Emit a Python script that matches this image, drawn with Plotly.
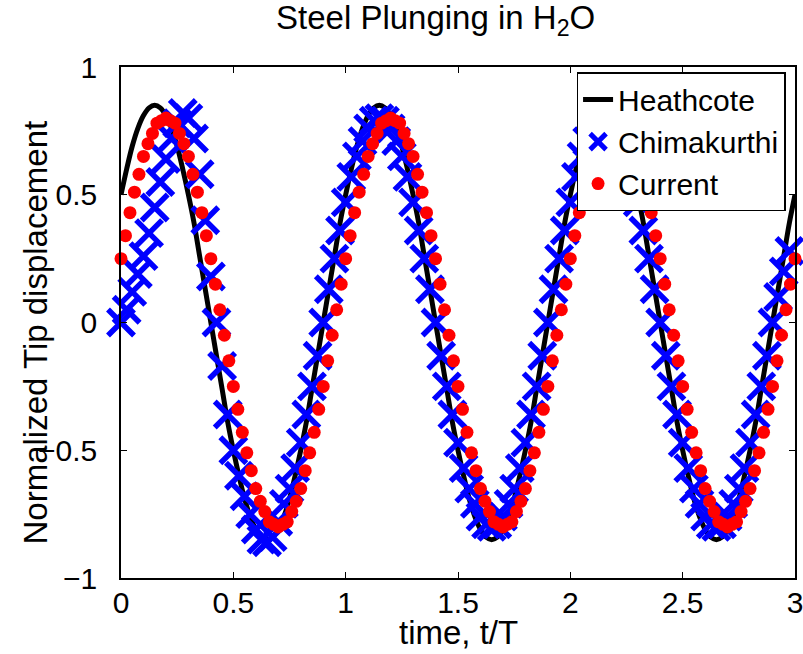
import plotly.graph_objects as go

# ---------------- data ----------------
heath_t = [round(0.025 * i, 3) for i in range(121)]
heath_y = [
    0.50, 0.60, 0.69, 0.76, 0.81, 0.84, 0.85, 0.84, 0.81, 0.76,
    0.69, 0.60, 0.50, 0.39, 0.26, 0.13, 0.00, -0.13, -0.26, -0.39,
    -0.50, -0.60, -0.69, -0.76, -0.81, -0.84, -0.85, -0.84, -0.81, -0.76,
    -0.69, -0.60, -0.50, -0.39, -0.26, -0.13, 0.00, 0.13, 0.26, 0.39,
    0.50, 0.60, 0.69, 0.76, 0.81, 0.84, 0.85, 0.84, 0.81, 0.76,
    0.69, 0.60, 0.50, 0.39, 0.26, 0.13, 0.00, -0.13, -0.26, -0.39,
    -0.50, -0.60, -0.69, -0.76, -0.81, -0.84, -0.85, -0.84, -0.81, -0.76,
    -0.69, -0.60, -0.50, -0.39, -0.26, -0.13, 0.00, 0.13, 0.26, 0.39,
    0.50, 0.60, 0.69, 0.76, 0.81, 0.84, 0.85, 0.84, 0.81, 0.76,
    0.69, 0.60, 0.50, 0.39, 0.26, 0.13, 0.00, -0.13, -0.26, -0.39,
    -0.50, -0.60, -0.69, -0.76, -0.81, -0.84, -0.85, -0.84, -0.81, -0.76,
    -0.69, -0.60, -0.50, -0.39, -0.26, -0.13, 0.00, 0.13, 0.26, 0.39,
    0.50,
]

chim_t = [round(0.025 * i, 3) for i in range(120)]
chim_y = [
    0.00, 0.05, 0.12, 0.19, 0.26, 0.35, 0.45, 0.55, 0.64, 0.72,
    0.78, 0.82, 0.80, 0.72, 0.58, 0.40, 0.18, 0.00, -0.17, -0.36,
    -0.50, -0.60, -0.68, -0.75, -0.81, -0.85, -0.86, -0.84, -0.78, -0.71,
    -0.65, -0.57, -0.47, -0.36, -0.25, -0.13, 0.00, 0.13, 0.25, 0.36,
    0.47, 0.57, 0.65, 0.71, 0.76, 0.79, 0.80, 0.79, 0.76, 0.71,
    0.65, 0.57, 0.47, 0.36, 0.25, 0.13, 0.00, -0.13, -0.25, -0.36,
    -0.47, -0.57, -0.65, -0.71, -0.76, -0.79, -0.80, -0.79, -0.76, -0.71,
    -0.65, -0.57, -0.47, -0.36, -0.25, -0.13, 0.00, 0.13, 0.25, 0.36,
    0.47, 0.57, 0.65, 0.71, 0.76, 0.79, 0.80, 0.79, 0.76, 0.71,
    0.65, 0.57, 0.47, 0.36, 0.25, 0.13, 0.00, -0.13, -0.25, -0.36,
    -0.47, -0.57, -0.65, -0.71, -0.76, -0.79, -0.80, -0.79, -0.76, -0.71,
    -0.65, -0.57, -0.47, -0.36, -0.25, -0.13, 0.00, 0.10, 0.20, 0.28,
]

curr_t = [round(0.02 * i, 3) for i in range(151)]
curr_y = [
    0.25, 0.34, 0.43, 0.51, 0.58, 0.65, 0.70, 0.74, 0.78, 0.79,
    0.80, 0.79, 0.78, 0.74, 0.70, 0.65, 0.58, 0.51, 0.43, 0.34,
    0.25, 0.15, 0.05, -0.05, -0.15, -0.25, -0.34, -0.43, -0.51, -0.58,
    -0.65, -0.70, -0.74, -0.78, -0.79, -0.80, -0.79, -0.78, -0.74, -0.70,
    -0.65, -0.58, -0.51, -0.43, -0.34, -0.25, -0.15, -0.05, 0.05, 0.15,
    0.25, 0.34, 0.43, 0.51, 0.58, 0.65, 0.70, 0.74, 0.78, 0.79,
    0.80, 0.79, 0.78, 0.74, 0.70, 0.65, 0.58, 0.51, 0.43, 0.34,
    0.25, 0.15, 0.05, -0.05, -0.15, -0.25, -0.34, -0.43, -0.51, -0.58,
    -0.65, -0.70, -0.74, -0.78, -0.79, -0.80, -0.79, -0.78, -0.74, -0.70,
    -0.65, -0.58, -0.51, -0.43, -0.34, -0.25, -0.15, -0.05, 0.05, 0.15,
    0.25, 0.34, 0.43, 0.51, 0.58, 0.65, 0.70, 0.74, 0.78, 0.79,
    0.80, 0.79, 0.78, 0.74, 0.70, 0.65, 0.58, 0.51, 0.43, 0.34,
    0.25, 0.15, 0.05, -0.05, -0.15, -0.25, -0.34, -0.43, -0.51, -0.58,
    -0.65, -0.70, -0.74, -0.78, -0.79, -0.80, -0.79, -0.78, -0.74, -0.70,
    -0.65, -0.58, -0.51, -0.43, -0.34, -0.25, -0.15, -0.05, 0.05, 0.15,
    0.25,
]

x_ticks = [0, 0.5, 1, 1.5, 2, 2.5, 3]
x_tick_labels = ["0", "0.5", "1", "1.5", "2", "2.5", "3"]
y_ticks = [-1, -0.5, 0, 0.5, 1]
y_tick_labels = ["\u22121", "\u22120.5", "0", "0.5", "1"]

title_text = "Steel Plunging in H<sub>2</sub>O"
x_title = "time, t/T"
y_title = "Normalized Tip displacement"

FONT = "Liberation Sans, Arial, Helvetica, sans-serif"

fig = go.Figure()
fig.add_trace(go.Scatter(
    x=heath_t, y=heath_y, mode="lines", name="Heathcote",
    line=dict(color="black", width=5, shape="spline"),
))
fig.add_trace(go.Scatter(
    x=chim_t, y=chim_y, mode="markers", name="Chimakurthi",
    marker=dict(symbol="x-thin", size=26, color="blue",
                line=dict(color="blue", width=5.5)),
    cliponaxis=False,
))
fig.add_trace(go.Scatter(
    x=curr_t, y=curr_y, mode="markers", name="Current",
    marker=dict(symbol="circle", size=13, color="red", line=dict(width=0)),
    cliponaxis=False,
))

axis_common = dict(
    showline=True, linecolor="black", linewidth=1.5, mirror="ticks",
    ticks="inside", ticklen=6, tickwidth=1, tickcolor="black",
    showgrid=False, zeroline=False, automargin=False,
    ticklabeloverflow="allow",
    tickfont=dict(family=FONT, size=30, color="black"),
)

fig.update_xaxes(range=[0, 3], tickvals=x_ticks, ticktext=x_tick_labels,
                 ticklabelstandoff=-3, **axis_common)
fig.update_yaxes(range=[-1, 1], tickvals=y_ticks, ticktext=y_tick_labels,
                 ticklabelstandoff=16, **axis_common)

fig.update_layout(
    width=803, height=654,
    margin=dict(l=121, r=8, t=67, b=76),
    paper_bgcolor="white", plot_bgcolor="white",
    showlegend=True,
    legend=dict(
        x=0.986, y=0.99, xanchor="right", yanchor="top",
        bgcolor="white", bordercolor="black", borderwidth=1.5,
        font=dict(family=FONT, size=30, color="black"),
        itemsizing="trace", tracegroupgap=0,
    ),
    annotations=[
        dict(text=title_text, xref="paper", yref="paper", x=0.467, y=1,
             xanchor="center", yanchor="middle", yshift=47, showarrow=False,
             font=dict(family=FONT, size=33, color="black")),
        dict(text=x_title, xref="paper", yref="paper", x=0.5, y=0,
             xanchor="center", yanchor="middle", yshift=-54, showarrow=False,
             font=dict(family=FONT, size=33, color="black")),
        dict(text=y_title, xref="paper", yref="paper", x=0, y=0.5,
             xanchor="center", yanchor="middle", xshift=-86, yshift=-10,
             textangle=-90, showarrow=False,
             font=dict(family=FONT, size=33, color="black")),
    ],
)

fig.write_html("out.html", config={"displayModeBar": False},
               post_script="document.body.style.margin='0';")
